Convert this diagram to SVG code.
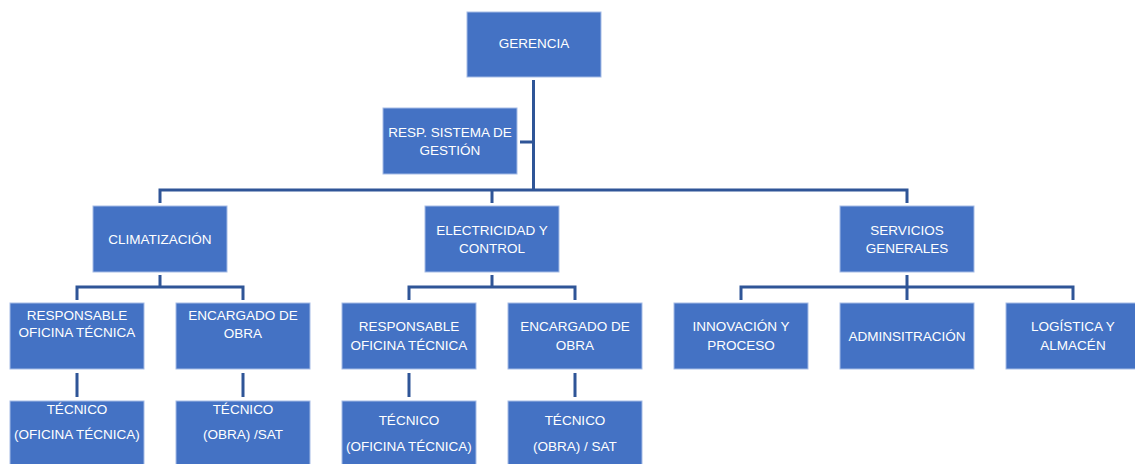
<svg xmlns="http://www.w3.org/2000/svg" width="1135" height="464" viewBox="0 0 1135 464">
<style>
.box{fill:#4472C4;stroke:#A5BCE6;stroke-width:1}
.t{font-family:"Liberation Sans",Arial,sans-serif;font-size:13.5px;fill:#FFFFFF;text-anchor:middle}
.c{fill:none;stroke:#2F5597;stroke-width:3}
</style>
<rect width="1135" height="464" fill="#FFFFFF"/>
<g id="connectors">
<path class="c" d="M533.5 80V190M520 142H533.5"/>
<path class="c" d="M160 203V190H907V203M492 190V203"/>
<path class="c" d="M160 275V287M77 300V287H243V300"/>
<path class="c" d="M492 275V287M409 300V287H575V300"/>
<path class="c" d="M907 275V300M741 300V287H1073V300"/>
<path class="c" d="M77 373V397M243 373V397M409 373V397M575 373V397"/>
</g>
<g id="gerencia"><rect class="box" x="467" y="12" width="134" height="65"/><text class="t" x="534" y="48">GERENCIA</text></g>
<g id="resp-sistema"><rect class="box" x="383" y="108" width="134" height="66"/><text class="t" x="450" y="137">RESP. SISTEMA DE</text><text class="t" x="450" y="154.5">GESTIÓN</text></g>
<g id="climatizacion"><rect class="box" x="93" y="206" width="134" height="66"/><text class="t" x="160" y="244">CLIMATIZACIÓN</text></g>
<g id="electricidad"><rect class="box" x="425" y="206" width="134" height="66"/><text class="t" x="492" y="234.5">ELECTRICIDAD Y</text><text class="t" x="492" y="252.5">CONTROL</text></g>
<g id="servicios"><rect class="box" x="840" y="206" width="134" height="66"/><text class="t" x="907" y="234.5">SERVICIOS</text><text class="t" x="907" y="252.5">GENERALES</text></g>
<g id="clima-resp"><rect class="box" x="10" y="303" width="134" height="66"/><text class="t" x="77" y="319.5">RESPONSABLE</text><text class="t" x="77" y="337">OFICINA TÉCNICA</text></g>
<g id="clima-enc"><rect class="box" x="176" y="303" width="134" height="66"/><text class="t" x="243" y="319.5">ENCARGADO DE</text><text class="t" x="243" y="338">OBRA</text></g>
<g id="elec-resp"><rect class="box" x="342" y="303" width="134" height="66"/><text class="t" x="409" y="331">RESPONSABLE</text><text class="t" x="409" y="349.5">OFICINA TÉCNICA</text></g>
<g id="elec-enc"><rect class="box" x="508" y="303" width="134" height="66"/><text class="t" x="575" y="331">ENCARGADO DE</text><text class="t" x="575" y="349.5">OBRA</text></g>
<g id="innovacion"><rect class="box" x="674" y="303" width="134" height="66"/><text class="t" x="741" y="331">INNOVACIÓN Y</text><text class="t" x="741" y="349.5">PROCESO</text></g>
<g id="administracion"><rect class="box" x="840" y="303" width="134" height="66"/><text class="t" x="907" y="340.5">ADMINSITRACIÓN</text></g>
<g id="logistica"><rect class="box" x="1006" y="303" width="134" height="66"/><text class="t" x="1073" y="331">LOGÍSTICA Y</text><text class="t" x="1073" y="349.5">ALMACÉN</text></g>
<g id="clima-tec-ofi"><rect class="box" x="10" y="401" width="134" height="66"/><text class="t" x="77" y="413.5">TÉCNICO</text><text class="t" x="77" y="438.5">(OFICINA TÉCNICA)</text></g>
<g id="clima-tec-obra"><rect class="box" x="176" y="401" width="134" height="66"/><text class="t" x="243" y="413.5">TÉCNICO</text><text class="t" x="243" y="438.5">(OBRA) /SAT</text></g>
<g id="elec-tec-ofi"><rect class="box" x="342" y="401" width="134" height="66"/><text class="t" x="409" y="425">TÉCNICO</text><text class="t" x="409" y="450.5">(OFICINA TÉCNICA)</text></g>
<g id="elec-tec-obra"><rect class="box" x="508" y="401" width="134" height="66"/><text class="t" x="575" y="425">TÉCNICO</text><text class="t" x="575" y="450.5">(OBRA) / SAT</text></g>
</svg>
